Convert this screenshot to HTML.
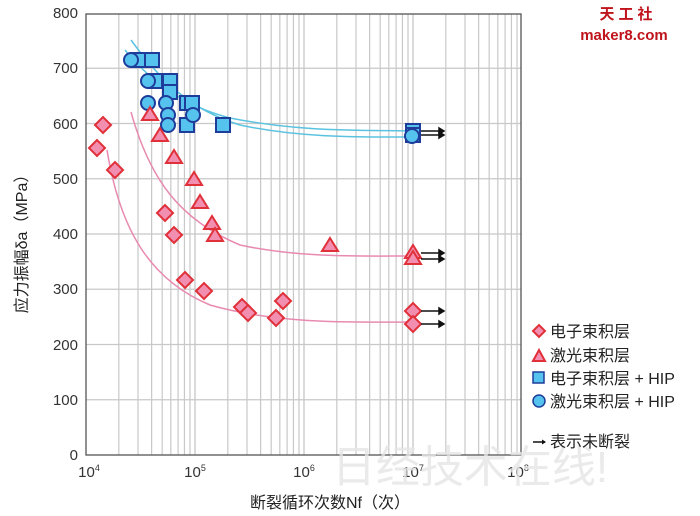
<!DOCTYPE html><html><head><meta charset="utf-8"><style>body{margin:0;background:#fff}svg{display:block}</style></head><body>
<svg width="700" height="516" xmlns="http://www.w3.org/2000/svg" font-family="Liberation Sans, Noto Sans CJK SC, sans-serif">
<rect width="700" height="516" fill="#fff"/>
<g id="grid" stroke="#c8c8c8" stroke-width="1.2"></g>
<rect x="86" y="14" width="435" height="441" fill="none" stroke="#555" stroke-width="1.3"/>
<g font-size="15" fill="#333" text-anchor="end">
<text x="78" y="460">0</text><text x="78" y="405">100</text><text x="78" y="350">200</text><text x="78" y="294">300</text><text x="78" y="239">400</text><text x="78" y="184">500</text><text x="78" y="129">600</text><text x="78" y="73">700</text><text x="78" y="18">800</text>
</g>
<g font-size="15" fill="#333" text-anchor="middle">
<text x="89" y="477">10<tspan font-size="9" dy="-6">4</tspan></text>
<text x="195" y="477">10<tspan font-size="9" dy="-6">5</tspan></text>
<text x="304" y="477">10<tspan font-size="9" dy="-6">6</tspan></text>
<text x="413" y="477">10<tspan font-size="9" dy="-6">7</tspan></text>
<text x="518" y="477">10<tspan font-size="9" dy="-6">8</tspan></text>
</g>
<text x="330" y="508" font-size="16" fill="#222" text-anchor="middle">断裂循环次数Nf（次）</text>
<text transform="translate(27,240) rotate(-90)" font-size="16" fill="#222" text-anchor="middle">应力振幅δa（MPa）</text>
<text x="470" y="482" font-size="44" fill="#e6e6e6" text-anchor="middle" opacity="0.8">日经技术在线!</text>
<g fill="none" stroke-width="1.5">
<path d="M125,50 C150,80 180,105 230,118 C300,132 360,130 413,131" stroke="#5bc3e0"/>
<path d="M131,40 C160,80 190,110 240,125 C300,138 360,137 413,137" stroke="#5bc3e0"/>
<path d="M131,112 C150,180 180,220 240,245 C300,258 360,256 413,256" stroke="#e88ab0"/>
<path d="M107,150 C120,230 150,280 210,305 C280,325 360,322 413,322" stroke="#e88ab0"/>
</g>
<g id="pts" stroke-width="2"></g>
<g stroke="#111" stroke-width="1.5" fill="#111" id="arr"></g>
<g font-size="16" fill="#222">
<path d="M533,331 l6,-6 l6,6 l-6,6z" fill="#f28fb0" stroke="#e0303a" stroke-width="2"/>
<text x="550" y="337">电子束积层</text>
<path d="M533,361 l6,-11 l6,11z" fill="#f28fb0" stroke="#e0303a" stroke-width="2"/>
<text x="550" y="361">激光束积层</text>
<rect x="533" y="372" width="11" height="11" fill="#55c3ee" stroke="#1e3c9a" stroke-width="1.5"/>
<text x="550" y="384">电子束积层 + HIP</text>
<circle cx="539" cy="401" r="6" fill="#55c3ee" stroke="#1e3c9a" stroke-width="1.5"/>
<text x="550" y="407">激光束积层 + HIP</text>
<path d="M533,442 h12" stroke="#111" stroke-width="1.5"/><path d="M546,442 l-4,-2.5 v5z" fill="#111"/>
<text x="550" y="447">表示未断裂</text>
</g>
<text x="628" y="19" font-size="15" font-weight="bold" fill="#c0141c" text-anchor="middle" letter-spacing="4">天工社</text>
<text x="624" y="40" font-size="15" font-weight="bold" fill="#c0141c" text-anchor="middle">maker8.com</text>
<script>
var ns="http://www.w3.org/2000/svg",g=document.getElementById('grid');
function L(p,x1,y1,x2,y2,a){var l=document.createElementNS(ns,'line');l.setAttribute('x1',x1);l.setAttribute('y1',y1);l.setAttribute('x2',x2);l.setAttribute('y2',y2);if(a)for(var k in a)l.setAttribute(k,a[k]);p.appendChild(l);}
for(var d=0;d<4;d++)for(var m=1;m<=10;m++){var x=86+(d+Math.log10(m))*109;if(x>86&&x<521)L(g,x,14,x,455);}
for(var v=100;v<800;v+=100){var y=455-v*0.5525;L(g,86,y,521,y);}
var P=document.getElementById('pts');
function add(t,a){var e=document.createElementNS(ns,t);for(var k in a)e.setAttribute(k,a[k]);P.appendChild(e);}
[[138,60],[152,60],[155,81],[170,81],[170,92],[187,103],[192,103],[187,125],[223,125],[413,131],[413,135]].forEach(function(p){add('rect',{x:p[0]-7,y:p[1]-7,width:14,height:14,fill:'#55c3ee',stroke:'#1e3c9a'});});
[[131,60],[148,81],[148,103],[166,103],[168,115],[168,125],[193,115],[412,136]].forEach(function(p){add('circle',{cx:p[0],cy:p[1],r:7,fill:'#55c3ee',stroke:'#1e3c9a'});});
[[150,115],[160,136],[174,158],[194,180],[200,203],[212,224],[215,236],[330,246],[413,253],[413,259]].forEach(function(p){add('path',{d:'M'+p[0]+','+(p[1]-8)+' l8,13 h-16z',fill:'#f28fb0',stroke:'#e0303a'});});
[[97,148],[103,125],[115,170],[165,213],[174,235],[185,280],[204,291],[242,307],[248,313],[276,318],[283,301],[413,311],[413,324]].forEach(function(p){add('path',{d:'M'+(p[0]-8)+','+p[1]+' l8,-8 l8,8 l-8,8z',fill:'#f28fb0',stroke:'#e0303a'});});
var A=document.getElementById('arr');
[131,135,253,259,311,324].forEach(function(y){L(A,421,y,440,y);var e=document.createElementNS(ns,'path');e.setAttribute('d','M444,'+y+' l-5,-3 v6z');A.appendChild(e);});
</script>
</svg></body></html>
